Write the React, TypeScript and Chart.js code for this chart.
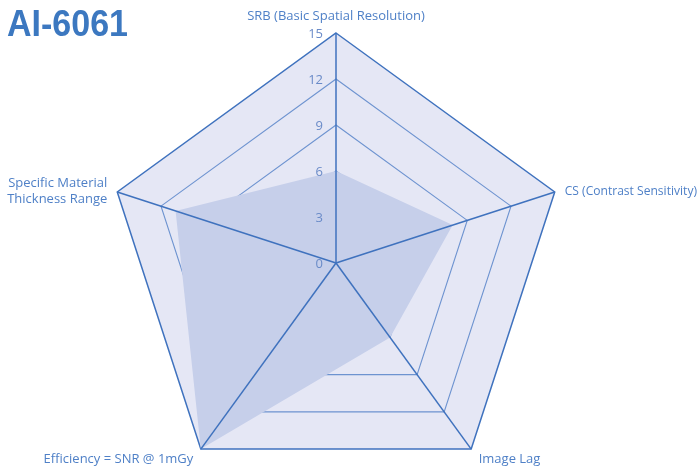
import React, { useEffect, useRef } from "react";
import { Chart, registerables } from "chart.js";

Chart.register(...registerables);

const categories: (string | string[])[] = [
  "SRB (Basic Spatial Resolution)",
  "CS (Contrast Sensitivity)",
  "Image Lag",
  "Efficiency = SNR @ 1mGy",
  ["Specific Material", "Thickness Range"],
];
const seriesValues = [6, 8, 6, 15, 11];
const scaleMin = 0;
const scaleMax = 15;
const scaleStep = 3;
const titleText = "AI-6061";

const LABEL_FONT = '13px "Open Sans"';
const LABEL_COLOR = "#4f80c7";
const TICK_FONT = '13px "Open Sans"';
const TICK_COLOR = "#6a8bc8";
const SPOKE_COLOR = "#3f72be";

const overlayPlugin = {
  id: "overlay",
  afterDatasetsDraw(chart: any) {
    const s = chart.scales.r;
    const ctx = chart.ctx;
    const cx = s.xCenter;
    const cy = s.yCenter;
    const n = chart.data.labels.length;
    const W = chart.width;
    ctx.save();
    // spokes on top of the fill
    ctx.strokeStyle = SPOKE_COLOR;
    ctx.lineWidth = 1.5;
    for (let i = 0; i < n; i++) {
      const p = s.getPointPosition(i, s.getDistanceFromCenterForValue(scaleMax));
      ctx.beginPath();
      ctx.moveTo(cx, cy);
      ctx.lineTo(p.x, p.y);
      ctx.stroke();
    }
    // tick labels
    ctx.font = TICK_FONT;
    ctx.fillStyle = TICK_COLOR;
    ctx.textAlign = "right";
    ctx.textBaseline = "middle";
    s.ticks.forEach((t: any) => {
      const y = cy - s.getDistanceFromCenterForValue(t.value);
      ctx.fillText(String(t.value), cx - 13, y + 1);
    });
    // point labels
    ctx.font = LABEL_FONT;
    ctx.fillStyle = LABEL_COLOR;
    const lh = 16;
    for (let i = 0; i < n; i++) {
      const raw = chart.data.labels[i];
      const lines: string[] = Array.isArray(raw) ? raw : [raw];
      const p = s.getPointPosition(i, s.drawingArea);
      const dx = p.x - cx;
      const dy = p.y - cy;
      let x = p.x;
      let mid = p.y;
      let align: CanvasTextAlign = "center";
      if (Math.abs(dx) < 1) {
        align = "center";
        mid = p.y - 17 - ((lines.length - 1) * lh) / 2;
      } else if (dy < 0) {
        align = dx > 0 ? "left" : "right";
        x = p.x + (dx > 0 ? 10 : -10);
        mid = p.y - 1;
      } else {
        align = dx > 0 ? "left" : "right";
        x = p.x + (dx > 0 ? 7.5 : -7.5);
        mid = p.y + 10;
      }
      const maxW = align === "left" ? W - x - 2 : align === "right" ? x - 4 : W;
      ctx.textAlign = align;
      const top = mid - ((lines.length - 1) * lh) / 2;
      lines.forEach((ln, k) => ctx.fillText(ln, x, top + k * lh, maxW));
    }
    ctx.restore();
  },
};

export default function App() {
  const ref = useRef<HTMLCanvasElement>(null);
  useEffect(() => {
    if (!ref.current) return;
    const chart = new Chart(ref.current, {
      type: "radar",
      data: {
        labels: categories as any,
        datasets: [
          {
            data: seriesValues,
            backgroundColor: "#c6cfea",
            borderWidth: 0,
            pointRadius: 0,
            fill: true,
          },
        ],
      },
      options: {
        animation: false,
        responsive: false,
        devicePixelRatio: 1,
        layout: { padding: { left: 105.5, right: 132.5, top: 32.5, bottom: 6.5 } },
        plugins: { legend: { display: false }, tooltip: { enabled: false }, title: { display: false } },
        scales: {
          r: {
            min: scaleMin,
            max: scaleMax,
            backgroundColor: "#e5e7f5",
            ticks: { stepSize: scaleStep, display: false },
            pointLabels: { display: false },
            angleLines: { display: false },
            grid: {
              color: (c: any) => (c.tick && c.tick.value === scaleMax ? "#3f72be" : "#6d93d0"),
              lineWidth: (c: any) => (c.tick && c.tick.value === scaleMax ? 1.5 : 1.1),
            },
          },
        },
      },
      plugins: [overlayPlugin],
    });
    return () => chart.destroy();
  }, []);

  return (
    <div style={{ position: "fixed", left: 0, top: 0, width: 699, height: 469, overflow: "hidden", background: "#fff" }}>
      <canvas ref={ref} width={699} height={500} style={{ display: "block" }} />
      <div
        style={{
          position: "absolute",
          left: 7,
          top: 6,
          font: 'bold 36px "Liberation Sans", Arial, sans-serif',
          lineHeight: "36px",
          color: "#3c78c0",
          margin: 0,
          transform: "scaleX(0.945)",
          transformOrigin: "left top",
          whiteSpace: "nowrap",
        }}
      >
        {titleText}
      </div>
    </div>
  );
}
